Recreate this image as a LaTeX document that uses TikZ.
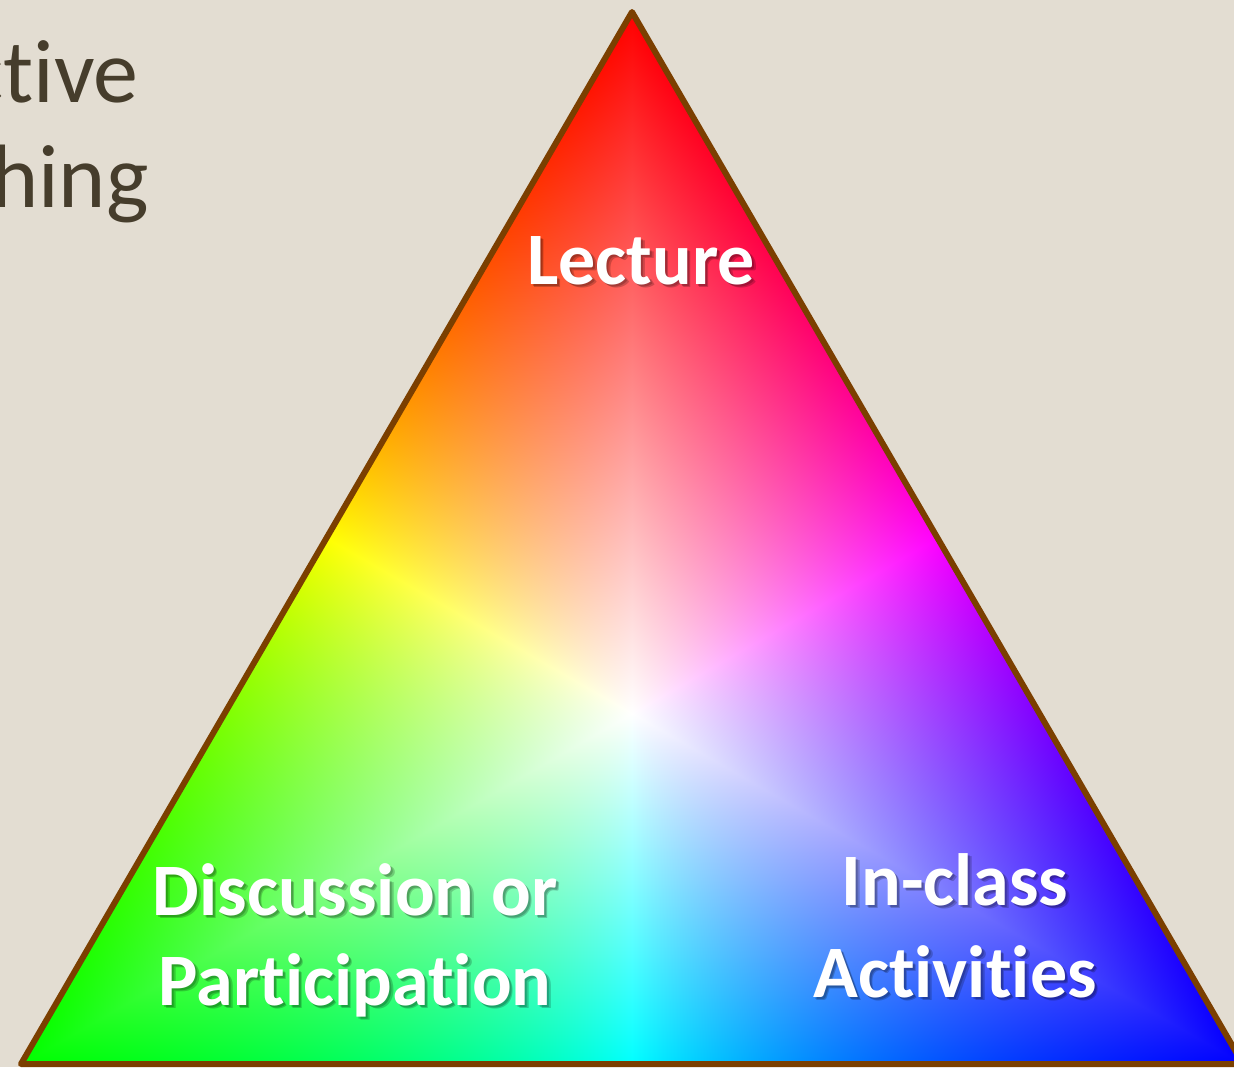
\documentclass[tikz,border=0pt]{standalone}
\usepackage{fontspec}
\setmainfont[Ligatures=NoCommon]{Carlito}

\definecolor{paper}{HTML}{E3DDD2}
\definecolor{rim}{HTML}{7B3F00}
\definecolor{ink}{HTML}{463D2C}

% Colour triangle: red at the top, green bottom left, blue bottom right,
% white at the centroid. The path's box is fitted to the inner -25..25 bp square.
\pgfdeclarefunctionalshading{colortriangle}{\pgfpoint{-50bp}{-50bp}}{\pgfpoint{50bp}{50bp}}{}{
  25 add 50 div
  exch 25 div
  1 index 1 exch sub
  2 copy add 2 div
  3 1 roll
  exch sub 2 div
  exch
  dup 0 lt {pop 0} if
  exch dup 0 lt {pop 0} if exch
  3 -1 roll dup 0 lt {pop 0} if 3 1 roll
  2 index 2 index 2 copy lt {exch} if pop
  1 index 2 copy lt {exch} if pop
  3 index 3 index 2 copy gt {exch} if pop
  2 index 2 copy gt {exch} if pop
  dup 3 mul 1 exch sub
  3 -1 roll 2 index sub 0.0001 add div
  exch 1 index 3 exch sub mul
  5 -1 roll 2 index mul 1 index add 5 1 roll
  4 -1 roll 2 index mul 1 index add 4 1 roll
  3 -1 roll 2 index mul 1 index add 3 1 roll
  pop pop
}

\tikzset{
  label text/.style={text=white, font=\bfseries\fontsize{#1}{#1}\selectfont,
    inner sep=0pt, anchor=base},
  label shadow/.style={text=black, text opacity=0.2,
    font=\bfseries\fontsize{#1}{#1}\selectfont, inner sep=0pt, anchor=base},
  title text/.style={text=ink, font=\fontsize{45}{54}\selectfont,
    inner sep=0pt, anchor=base east},
}

\begin{document}
\begin{tikzpicture}[x=0.5pt, y=-0.5pt]
  \useasboundingbox (0,0) rectangle (1234,1067);
  \clip (0,0) rectangle (1234,1067);
  \fill[paper] (0,0) rectangle (1234,1067);

  % heading, running off the left edge
  \node[title text] (headA) at (139,102) {ctive};
  \node[title text] (headB) at (149,207) {hing};

  % the triangle
  \coordinate (top) at (632,12);
  \coordinate (bl)  at (21,1064);
  \coordinate (br)  at (1243,1064);
  \shade[shading=colortriangle] (top) -- (bl) -- (br) -- cycle;
  \draw[rim, line width=3pt, line join=round] (top) -- (bl) -- (br) -- cycle;

  % labels with soft drop shadows
  \foreach \dx/\dy in {2/2, 3.5/3.5} {
    \node[label shadow=37] (shL) at (641+\dx,284+\dy) {Lecture};
    \node[label shadow=37] (shD1) at (355+\dx,915+\dy) {Discussion or};
    \node[label shadow=37] (shD2) at (355+\dx,1005+\dy) {Participation};
    \node[label shadow=37] (shI1) at (955+\dx,905+\dy) {In-class};
    \node[label shadow=37] (shI2) at (955+\dx,997+\dy) {Activities};
  }
  \node[label text=37] (lecture) at (641,284) {Lecture};
  \node[label text=37] (disc1) at (355,915) {Discussion or};
  \node[label text=37] (disc2) at (355,1005) {Participation};
  \node[label text=37] (act1) at (955,905) {In-class};
  \node[label text=37] (act2) at (955,997) {Activities};
\end{tikzpicture}
\end{document}
